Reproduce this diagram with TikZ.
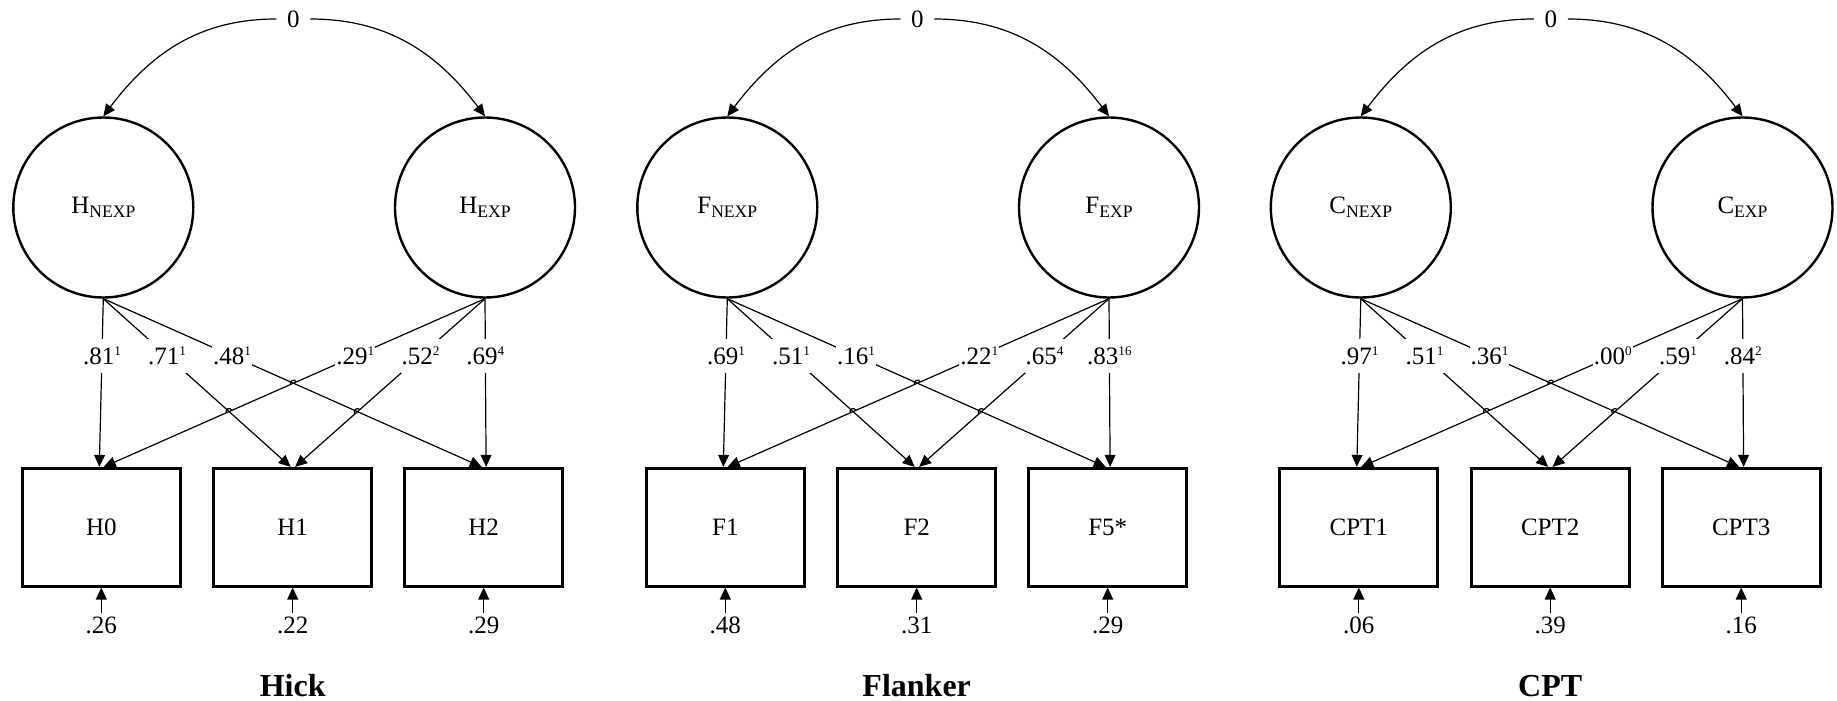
\documentclass[tikz,border=0pt]{standalone}
\usepackage{fontspec}
\setmainfont{Liberation Serif}
\usetikzlibrary{arrows.meta,calc,intersections}
\newcommand\subtxt[1]{\raisebox{-2pt}{\fontsize{8.8}{10}\selectfont #1}}
\newcommand\sups[1]{\raisebox{4.8pt}{\fontsize{6.6}{7}\selectfont #1}}
\begin{document}
\begin{tikzpicture}[x=0.5pt,y=-0.5pt,
  base/.style={font=\fontsize{12.5}{15}\selectfont},
  lat/.style={base,circle,draw,line width=1.2pt,minimum size=90pt,inner sep=0pt},
  obs/.style={base,rectangle,draw,line width=1.4pt,minimum width=79pt,minimum height=58.9pt,inner sep=0pt},
  conn/.style={line width=0.6pt,-{Triangle[length=6pt,width=5.4pt]}},
  lab/.style={base,fill=white,inner xsep=0.5pt,inner ysep=4pt,pos=0.34},
  zerolbl/.style={base,inner xsep=5.2pt,inner ysep=1pt},
  errlbl/.style={base,inner sep=2pt},
  titlelbl/.style={font=\fontsize{16}{19}\selectfont\bfseries},
  hop/.style={line width=0.6pt,looseness=1.6}]
\useasboundingbox (0,0) rectangle (1837,701);
\foreach \pre/\off/\ltr/\bxa/\bxb/\bxc/\ttl/\lda/\ldb/\ldc/\ldd/\lde/\ldf/\era/\erb/\erc in {
  h/0/H/H0/H1/H2/Hick/{.81\sups{1}}/{.71\sups{1}}/{.48\sups{1}}/{.29\sups{1}}/{.52\sups{2}}/{.69\sups{4}}/.26/.22/.29,
  f/624/F/F1/F2/F5*/Flanker/{.69\sups{1}}/{.51\sups{1}}/{.16\sups{1}}/{.22\sups{1}}/{.65\sups{4}}/{.83\sups{16}}/.48/.31/.29,
  c/1257.5/C/CPT1/CPT2/CPT3/CPT/{.97\sups{1}}/{.51\sups{1}}/{.36\sups{1}}/{.00\sups{0}}/{.59\sups{1}}/{.84\sups{2}}/.06/.39/.16}{
 \begin{scope}[shift={(\off,0)}]
  \node[zerolbl] (\pre-z) at (293.3,19) {0};
  \node[lat] (\pre-n) at (103.3,207.5) {\ltr\subtxt{NEXP}};
  \node[lat] (\pre-e) at (485,207.5) {\ltr\subtxt{EXP}};
  \node[obs] (\pre-b1) at (101.3,527.2) {\bxa};
  \node[obs] (\pre-b2) at (292.7,527.2) {\bxb};
  \node[obs] (\pre-b3) at (483.7,527.2) {\bxc};
  \node[errlbl] (\pre-r1) at (101.3,625.8) {\era};
  \node[errlbl] (\pre-r2) at (292.7,625.8) {\erb};
  \node[errlbl] (\pre-r3) at (483.7,625.8) {\erc};
  \node[titlelbl] (\pre-t) at (292.7,685.8) {\ttl};
  \draw[conn] (\pre-z.west) to[out=180,in=53] (\pre-n.north);
  \draw[conn] (\pre-z.east) to[out=0,in=127] (\pre-e.north);
  \draw[conn,name path=\pre-n1] (\pre-n.south) -- ([xshift=-1pt]\pre-b1.north) node[lab]{\lda};
  \draw[conn,name path=\pre-n2] (\pre-n.south) -- ([xshift=-1pt]\pre-b2.north) node[lab]{\ldb};
  \draw[conn,name path=\pre-n3] (\pre-n.south) -- ([xshift=-1pt]\pre-b3.north) node[lab]{\ldc};
  \draw[conn,name path=\pre-e1] (\pre-e.south) -- ([xshift=1.2pt]\pre-b1.north) node[lab]{\ldd};
  \draw[conn,name path=\pre-e2] (\pre-e.south) -- ([xshift=1.2pt]\pre-b2.north) node[lab]{\lde};
  \draw[conn,name path=\pre-e3] (\pre-e.south) -- ([xshift=1.2pt]\pre-b3.north) node[lab]{\ldf};
  \draw[conn] (\pre-r1.north) -- (\pre-b1.south);
  \draw[conn] (\pre-r2.north) -- (\pre-b2.south);
  \draw[conn] (\pre-r3.north) -- (\pre-b3.south);
  \path[name intersections={of=\pre-e1 and \pre-n3,by={\pre-xa}}];
  \path[name intersections={of=\pre-e1 and \pre-n2,by={\pre-xb}}];
  \path[name intersections={of=\pre-e2 and \pre-n3,by={\pre-xc}}];
  \draw[hop] ($(\pre-xa)!1.6pt!(\pre-e.south)$) to[bend right=90] ($(\pre-xa)!1.6pt!(\pre-b1.north)$);
  \draw[hop] ($(\pre-xb)!1.6pt!(\pre-e.south)$) to[bend right=90] ($(\pre-xb)!1.6pt!(\pre-b1.north)$);
  \draw[hop] ($(\pre-xc)!1.6pt!(\pre-e.south)$) to[bend right=90] ($(\pre-xc)!1.6pt!(\pre-b2.north)$);
 \end{scope}
}
\end{tikzpicture}
\end{document}
